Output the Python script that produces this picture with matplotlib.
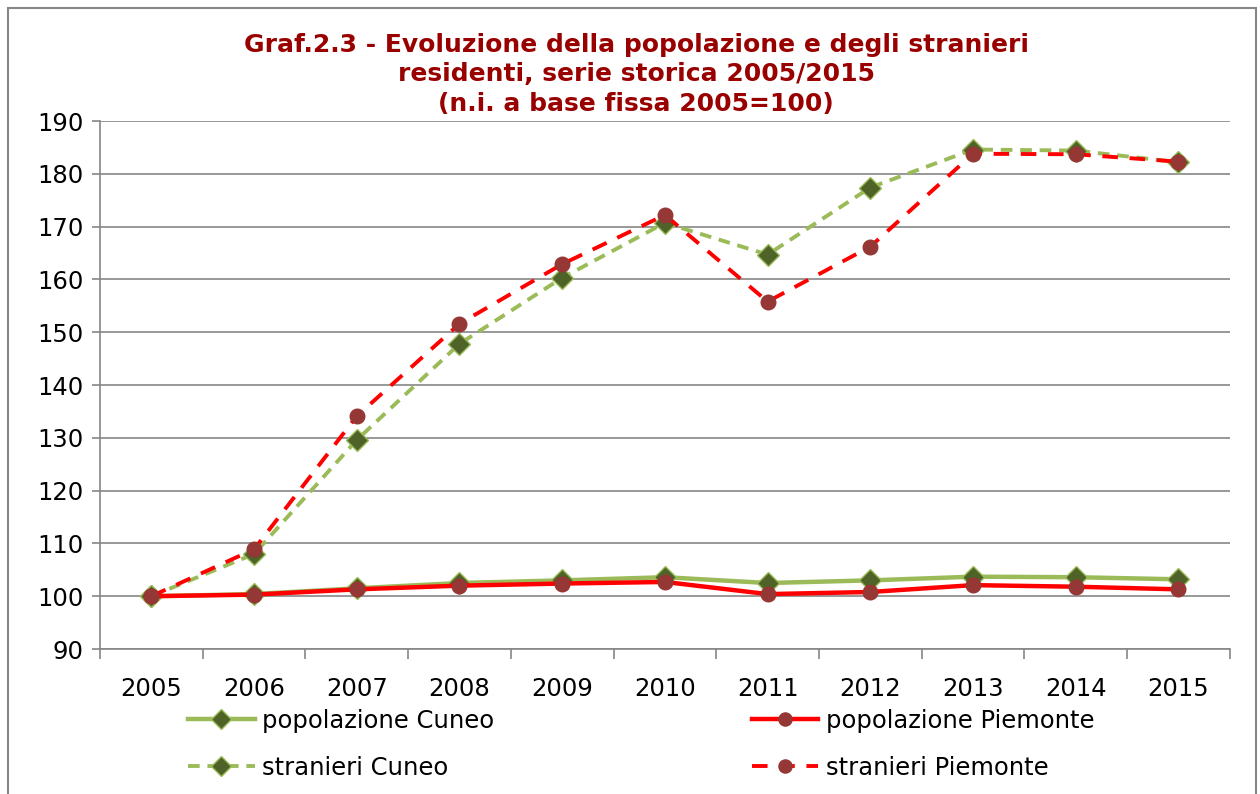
import matplotlib.pyplot as plt
import numpy as np
from matplotlib.patches import Rectangle

years = ["2005", "2006", "2007", "2008", "2009", "2010",
         "2011", "2012", "2013", "2014", "2015"]

pop_cuneo = [100, 100.4, 101.5, 102.5, 103.0, 103.6, 102.5, 103.0, 103.7, 103.6, 103.2]
pop_piemonte = [100, 100.3, 101.3, 102.0, 102.4, 102.7, 100.4, 100.8, 102.1, 101.8, 101.3]
str_cuneo = [100, 108.0, 129.6, 147.8, 160.3, 170.7, 164.7, 177.4, 184.6, 184.4, 182.2]
str_piemonte = [100, 108.9, 134.1, 151.6, 162.9, 172.2, 155.8, 166.2, 183.8, 183.7, 182.3]

green = "#9BBB59"
dark_green = "#4F6228"
red = "#FF0000"
brown = "#953735"

fig = plt.figure(figsize=(12.6, 7.94), dpi=100)
ax = fig.add_axes([0.0794, 0.1826, 0.8966, 0.665])

# frame around the whole chart
fig.patches.append(Rectangle((0.0065, -0.01), 0.99, 1.0, transform=fig.transFigure,
                             fill=False, edgecolor="#868686", linewidth=1.5))

x = np.arange(len(years))

ax.plot(x, pop_cuneo, color=green, lw=3.2, marker="D", ms=11,
        mfc=dark_green, mec=green, mew=1, label="popolazione Cuneo", zorder=3)
ax.plot(x, str_cuneo, color=green, lw=2.8, ls=(0, (3, 2)), marker="D", ms=11,
        mfc=dark_green, mec=green, mew=1, label="stranieri Cuneo", zorder=3)
ax.plot(x, pop_piemonte, color=red, lw=3.2, marker="o", ms=10.5,
        mfc=brown, mec=brown, label="popolazione Piemonte", zorder=4)
ax.plot(x, str_piemonte, color=red, lw=2.8, ls=(0, (4, 3)), marker="o", ms=10.5,
        mfc=brown, mec=brown, label="stranieri Piemonte", zorder=4)

ax.set_xlim(-0.5, len(years) - 0.5)
ax.set_ylim(90, 190)
ax.set_yticks(np.arange(90, 191, 10))
ax.set_xticks(x, years)
ax.set_xticks(np.arange(-0.5, len(years), 1), minor=True)
ax.tick_params(axis="x", which="major", length=0, pad=20, labelsize=17.5)
ax.tick_params(axis="x", which="minor", length=7, color="#868686", width=1.2)
ax.tick_params(axis="y", length=6, color="#868686", width=1.2, labelsize=17.5, pad=6)

ax.grid(axis="y", color="#868686", lw=1.2)
ax.set_axisbelow(True)
for s in ["top", "right"]:
    ax.spines[s].set_visible(False)
for s in ["left", "bottom"]:
    ax.spines[s].set_color("#868686")
    ax.spines[s].set_linewidth(1.2)

fig.text(0.505, 0.958, "Graf.2.3 - Evoluzione della popolazione e degli stranieri\n"
         "residenti, serie storica 2005/2015\n(n.i. a base fissa 2005=100)",
         ha="center", va="top", fontsize=18, fontweight="bold", color="#990000",
         linespacing=1.27)

h, l = ax.get_legend_handles_labels()
fig.legend(h, l, loc="lower left", bbox_to_anchor=(0.149, 0.018), ncol=2,
           frameon=False, fontsize=17.5, handlelength=2.75, handletextpad=0.3,
           columnspacing=10.6, labelspacing=0.95, borderpad=0, borderaxespad=0,
           markerscale=0.9)

fig.savefig("out.png", dpi=100)
